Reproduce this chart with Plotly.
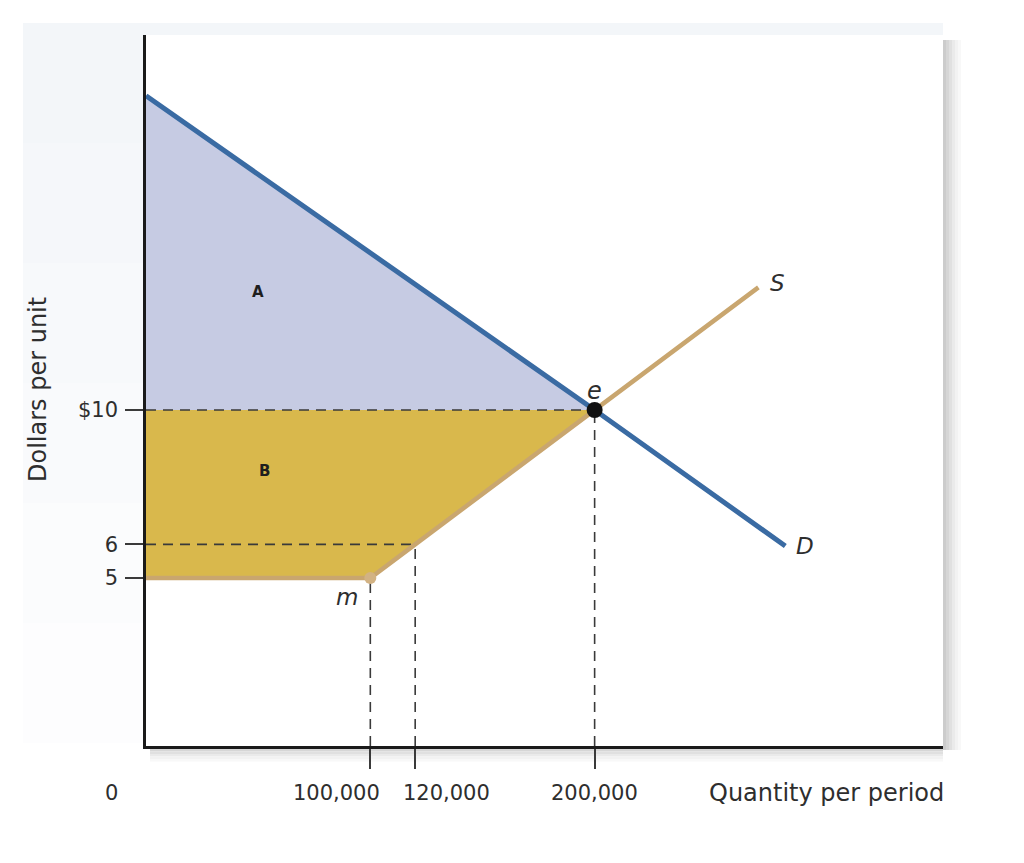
import plotly.graph_objects as go

# ---- data ----
demand_q = [0, 200000, 285000]
demand_p = [19.35, 10, 5.95]
supply_q = [0, 100000, 120000, 200000, 273000]
supply_p = [5, 5, 6, 10, 13.65]
eq_q, eq_p = 200000, 10
m_q, m_p = 100000, 5
area_a_q = [0, 0, 200000]
area_a_p = [10, 19.35, 10]
area_b_q = [0, 200000, 120000, 100000, 0]
area_b_p = [10, 10, 6, 5, 5]
hdash_q_end = [200000, 120000]
hdash_p = [10, 6]
vdash_q = [100000, 120000, 200000]
vdash_p_top = [5, 6, 10]
ytick_vals = [5, 6, 10]
ytick_text = ["5", "6", "$10"]
xlabel_vals = [0, 100000, 120000, 200000]
xlabel_text = ["0", "100,000", "120,000", "200,000"]

X_MAX = 355300
Y_MAX = 21.16
FONT = "DejaVu Sans, Liberation Sans, sans-serif"
TXT = "#2e2e2e"

fig = go.Figure()

# shaded areas
fig.add_trace(go.Scatter(x=area_a_q, y=area_a_p, fill="toself", mode="lines",
                         fillcolor="#c6cbe3", line=dict(width=0), hoverinfo="skip"))
fig.add_trace(go.Scatter(x=area_b_q, y=area_b_p, fill="toself", mode="lines",
                         fillcolor="#d9b84c", line=dict(width=0), hoverinfo="skip"))

# dashed guides
DASH = dict(color="#3a3a3a", width=1.6, dash="10px,7px")
for q, p in zip(hdash_q_end, hdash_p):
    fig.add_trace(go.Scatter(x=[0, q], y=[p, p], mode="lines", line=DASH, hoverinfo="skip"))
for q, p in zip(vdash_q, vdash_p_top):
    fig.add_trace(go.Scatter(x=[q, q], y=[0, p], mode="lines", line=DASH, hoverinfo="skip"))

# supply & demand
fig.add_trace(go.Scatter(x=supply_q, y=supply_p, mode="lines",
                         line=dict(color="#c9a66f", width=4.5), hoverinfo="skip"))
fig.add_trace(go.Scatter(x=demand_q, y=demand_p, mode="lines",
                         line=dict(color="#3a6ba3", width=5), hoverinfo="skip"))
fig.add_trace(go.Scatter(x=[m_q], y=[m_p], mode="markers",
                         marker=dict(color="#d2b283", size=12), hoverinfo="skip"))
fig.add_trace(go.Scatter(x=[eq_q], y=[eq_p], mode="markers",
                         marker=dict(color="#111111", size=16), hoverinfo="skip"))

# background panel + shadow (pixel -> paper)
def px_x(p):
    return (p - 146) / 797
def px_y(p):
    return (746 - p) / 711

shapes = []
# faint panel, fading downward
panel_cols = ["#f3f6f9", "#f5f7fa", "#f7f9fb", "#f9fafc", "#fbfcfd", "#fdfdfe"]
band = 120
for i, c in enumerate(panel_cols):
    shapes.append(dict(type="rect", xref="paper", yref="paper",
                       x0=px_x(23), x1=px_x(943),
                       y0=px_y(23 + (i + 1) * band), y1=px_y(23 + i * band),
                       fillcolor=c, line=dict(width=0), layer="below"))
# right / bottom shadow gradient
shades = ["#cccccc", "#d6d6d6", "#e0e0e0", "#eaeaea", "#f2f2f2", "#f8f8f8"]
for i, c in enumerate(shades):
    shapes.append(dict(type="rect", xref="paper", yref="paper",
                       x0=px_x(943 + i * 3), x1=px_x(946 + i * 3),
                       y0=px_y(750), y1=px_y(40), fillcolor=c, line=dict(width=0), layer="below"))
    shapes.append(dict(type="rect", xref="paper", yref="paper",
                       x0=px_x(150), x1=px_x(943),
                       y0=px_y(749 + i * 2.5), y1=px_y(746.5 + i * 2.5),
                       fillcolor=c, line=dict(width=0), layer="below"))
shapes.append(dict(type="rect", xref="paper", yref="paper", x0=0, x1=1, y0=0, y1=1,
                   fillcolor="white", line=dict(width=0), layer="below"))

annotations = []
# x labels
for v, t, s in zip(xlabel_vals, xlabel_text, [-35, -34, 31, 0]):
    annotations.append(dict(x=v, y=px_y(793), xref="x", yref="paper", text=t,
                            showarrow=False, xshift=s, xanchor="center", yanchor="middle",
                            font=dict(family=FONT, size=21, color=TXT)))
annotations.append(dict(x=px_x(826), y=px_y(793), xref="paper", yref="paper",
                        text="Quantity per period", showarrow=False,
                        xanchor="center", yanchor="middle",
                        font=dict(family=FONT, size=24, color=TXT)))
annotations.append(dict(x=px_x(38), y=px_y(390), xref="paper", yref="paper",
                        text="Dollars per unit", showarrow=False, textangle=-90,
                        xanchor="center", yanchor="middle",
                        font=dict(family=FONT, size=24, color=TXT)))
# area letters
annotations.append(dict(x=50000, y=13.5, text="<b>A</b>", showarrow=False,
                        font=dict(family=FONT, size=15, color="#1e1e1e")))
annotations.append(dict(x=53000, y=8.18, text="<b>B</b>", showarrow=False,
                        font=dict(family=FONT, size=15, color="#1e1e1e")))
# point labels
annotations.append(dict(x=eq_q, y=eq_p, text="<i>e</i>", showarrow=False, yshift=19,
                        font=dict(family=FONT, size=24, color=TXT)))
annotations.append(dict(x=m_q, y=m_p, text="<i>m</i>", showarrow=False,
                        xshift=-23, yshift=-19,
                        font=dict(family=FONT, size=23, color=TXT)))
annotations.append(dict(x=supply_q[-1], y=supply_p[-1], text="<i>S</i>", showarrow=False,
                        xshift=19, yshift=4,
                        font=dict(family=FONT, size=23, color=TXT)))
annotations.append(dict(x=demand_q[-1], y=demand_p[-1], text="<i>D</i>", showarrow=False,
                        xshift=20, yshift=0,
                        font=dict(family=FONT, size=23, color=TXT)))

fig.update_layout(
    width=1024, height=863,
    margin=dict(l=146, r=81, t=35, b=117),
    paper_bgcolor="white", plot_bgcolor="white",
    showlegend=False,
    shapes=shapes,
    annotations=annotations,
    xaxis=dict(range=[0, X_MAX], showgrid=False, zeroline=False,
               showline=True, linecolor="#1a1a1a", linewidth=3,
               ticks="outside", tickvals=vdash_q, ticklen=20, tickwidth=1.5,
               tickcolor="#3a3a3a", showticklabels=False, fixedrange=True),
    yaxis=dict(range=[0, Y_MAX], showgrid=False, zeroline=False,
               showline=True, linecolor="#1a1a1a", linewidth=2.5,
               ticks="outside", tickvals=ytick_vals, ticktext=ytick_text,
               ticklen=18, tickwidth=2, tickcolor="#3a3a3a",
               ticklabelstandoff=3,
               tickfont=dict(family=FONT, size=21, color=TXT), fixedrange=True),
)

fig.write_html("out.html")
